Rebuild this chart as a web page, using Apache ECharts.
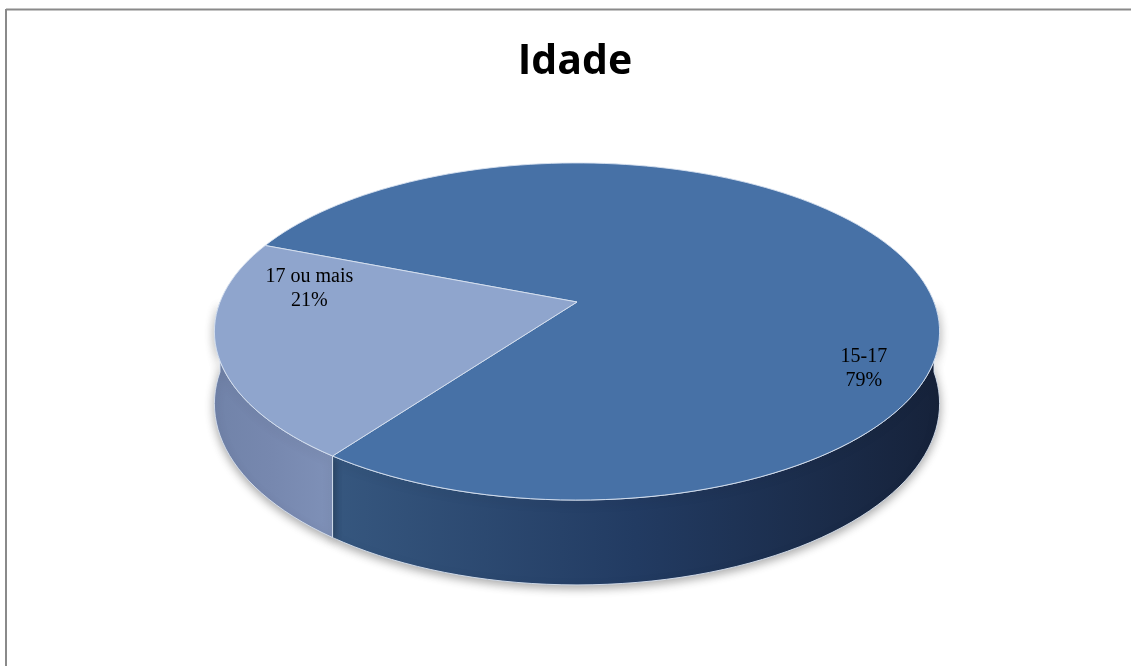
<!DOCTYPE html>
<html>
<head>
<meta charset="utf-8">
<title>Idade</title>
<script src="https://cdn.jsdelivr.net/npm/echarts@6/dist/echarts.min.js"></script>
<style>
  html, body { margin: 0; padding: 0; background: #fff; }
  #main { width: 1131px; height: 666px; }
</style>
</head>
<body>
<div id="main"></div>
<script>
  // dados do gráfico
  var categorias = ['15-17', '17 ou mais'];
  var valores = [79, 21];

  // aparência
  var coresTopo = ['#4771a6', '#8fa5cd'];
  var coresLado = [['#36577f', '#223b62', '#16223a'], ['#7183a9', '#7788af', '#7f91b8']];
  // posição do rótulo em coordenadas do disco (u: direita, v: frente)
  var rotuloDisco = [[0.75, 0.38], [-0.76, -0.08]];

  // projeção 3D simples (inclinação + perspectiva)
  var cx = 577, cy = 302, R = 357, Rb = 163.4, k = 0.175, D = 70;
  var startAngle = 144; // graus, a partir do fundo, sentido anti-horário na tela

  function proj(u, v, dz) {
    var s = 1 / (1 - k * v);
    return [cx + R * u * s, cy + Rb * v * s + dz * s];
  }
  function ponto(phi, dz) {
    var a = phi * Math.PI / 180;
    return proj(-Math.sin(a), -Math.cos(a), dz || 0);
  }
  function arco(a, b, dz) {
    var pts = [];
    var n = Math.max(2, Math.ceil(Math.abs(b - a) / 2));
    for (var i = 0; i <= n; i++) pts.push(ponto(a + (b - a) * i / n, dz));
    return pts;
  }

  // ângulos de cada fatia a partir dos valores
  var total = valores.reduce(function (s, x) { return s + x; }, 0);
  var fatias = [];
  var acc = startAngle;
  valores.forEach(function (v) {
    var span = v / total * 360;
    fatias.push([acc, acc + span]);
    acc += span;
  });

  function lados(params, api) {
    var i = params.dataIndex;
    var f = fatias[i];
    var filhos = [];
    [-360, 0, 360].forEach(function (off) {
      var a = Math.max(f[0] + off, 90), b = Math.min(f[1] + off, 270);
      if (b <= a) return;
      var cima = arco(a, b, 0);
      var baixo = arco(b, a, D);
      var c = coresLado[i];
      filhos.push({
        type: 'polygon',
        shape: { points: cima.concat(baixo) },
        style: {
          fill: {
            type: 'linear', x: 0, y: 0, x2: 1, y2: 0,
            colorStops: [{ offset: 0, color: c[0] }, { offset: 0.5, color: c[1] }, { offset: 1, color: c[2] }]
          },
          stroke: 'rgba(215,225,240,0.9)',
          lineWidth: 1,
          shadowBlur: 10,
          shadowColor: 'rgba(0,0,0,0.35)',
          shadowOffsetY: 3
        }
      });
    });
    return { type: 'group', children: filhos };
  }

  function topos(params, api) {
    var i = params.dataIndex;
    var f = fatias[i];
    var pts = [proj(0, 0, 0)].concat(arco(f[0], f[1], 0));
    var pct = Math.round(api.value(0) / total * 100);
    var lp = proj(rotuloDisco[i][0], rotuloDisco[i][1], 0);
    return {
      type: 'group',
      children: [{
        type: 'polygon',
        shape: { points: pts },
        style: { fill: coresTopo[i], stroke: 'rgba(215,225,240,0.9)', lineWidth: 1 }
      }, {
        type: 'text',
        x: lp[0], y: lp[1],
        style: {
          text: categorias[i] + '\n' + pct + '%',
          fill: '#000',
          font: '20px "Liberation Serif", serif',
          lineHeight: 24,
          align: 'center',
          verticalAlign: 'middle'
        },
        z2: 10
      }]
    };
  }

  var dados = valores.map(function (v, i) { return { name: categorias[i], value: [v] }; });

  var myChart = echarts.init(document.getElementById('main'));
  myChart.setOption({
    backgroundColor: '#fff',
    animation: false,
    title: {
      text: 'Idade',
      left: 570,
      textAlign: 'center',
      top: 37,
      textStyle: { fontFamily: '"Open Sans", sans-serif', fontWeight: 'bold', fontSize: 41, color: '#000' }
    },
    // moldura (só topo e esquerda ficam visíveis)
    graphic: [
      { type: 'line', shape: { x1: 6, y1: 9.5, x2: 1131, y2: 9.5 }, style: { stroke: '#8a8a8a', lineWidth: 2 } },
      { type: 'line', shape: { x1: 6, y1: 9, x2: 6, y2: 666 }, style: { stroke: '#8a8a8a', lineWidth: 2 } }
    ],
    series: [
      { type: 'custom', name: 'lados', coordinateSystem: 'none', renderItem: lados, data: dados, z: 1 },
      { type: 'custom', name: 'topos', coordinateSystem: 'none', renderItem: topos, data: dados, z: 2 }
    ]
  });
</script>
</body>
</html>
